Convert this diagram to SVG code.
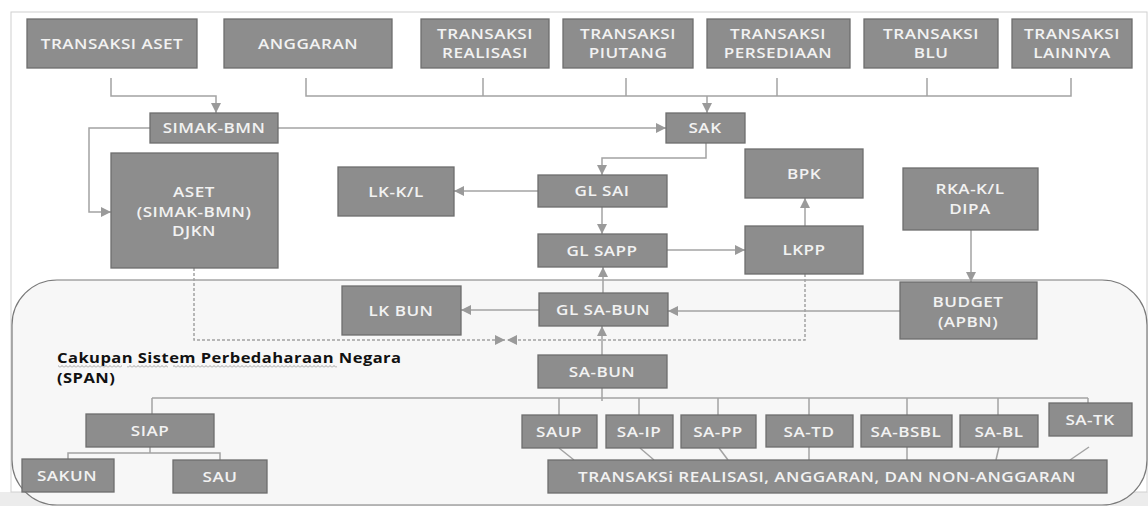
<svg xmlns="http://www.w3.org/2000/svg" width="1148" height="506" viewBox="0 0 1148 506">
<defs>
<marker id="ah" viewBox="0 0 10 10" refX="10" refY="5" markerWidth="10" markerHeight="10" markerUnits="userSpaceOnUse" orient="auto">
<path d="M0,0 L10,5 L0,10 z" fill="#9a9a9a"/>
</marker>
<pattern id="wavy" x="0" y="365" width="4" height="3" patternUnits="userSpaceOnUse">
<path d="M0,2.5 L2,0.5 L4,2.5" fill="none" stroke="#8a8a8a" stroke-width="0.8"/>
</pattern>
<style>
.n rect{fill:#8d8d8d;stroke:#6e6e6e;stroke-width:1.3}
.n text{fill:#f2f2f2;font-family:"Open Sans","Liberation Sans",sans-serif;font-size:14px;font-weight:600;text-anchor:middle;letter-spacing:0.4px}
.c path{fill:none;stroke:#a3a3a3;stroke-width:1.5}
.d{stroke-dasharray:3,2;stroke:#999}
.a{marker-end:url(#ah)}
.h{font-family:"Open Sans","Liberation Sans",sans-serif;font-size:14.5px;font-weight:700;fill:#111;letter-spacing:0.4px}
</style>
</defs>
<rect x="0" y="0" width="1148" height="506" fill="#ffffff"/>
<rect x="0" y="492" width="1148" height="14" fill="#ececec"/>
<rect x="11" y="12" width="1136" height="480" fill="#ffffff" stroke="#d0d0d0" stroke-width="1"/>
<path id="span-region" d="M57,280 H1102 A45,45 0 0 1 1147,325 V460 A45,45 0 0 1 1102,505 H57 A45,45 0 0 1 12,460 V325 A45,45 0 0 1 57,280 Z" fill="#f7f7f7" stroke="#7a7a7a" stroke-width="1.2"/>
<text class="h" transform="translate(57,363) scale(1.14,1)">Cakupan Sistem Perbedaharaan Negara</text>
<text class="h" transform="translate(57,383) scale(1.14,1)">(SPAN)</text>
<rect x="58" y="365" width="64" height="3" fill="url(#wavy)"/>
<rect x="127" y="365" width="41" height="3" fill="url(#wavy)"/>
<rect x="173" y="365" width="164" height="3" fill="url(#wavy)"/>

<g class="c" id="connectors">
<path d="M111,78 V96 H216 V113" class="a"/>
<path d="M306,78 V96 H1071 V78"/>
<path d="M483,78 V96"/>
<path d="M626,78 V96"/>
<path d="M777,78 V96"/>
<path d="M927,78 V96"/>
<path d="M707,96 V113" class="a"/>
<path d="M278,128 H666" class="a"/>
<path d="M150,128 H89 V212 H111" class="a"/>
<path d="M706,143 V158 H602 V175" class="a"/>
<path d="M538,191 H454" class="a"/>
<path d="M602,207 V234" class="a"/>
<path d="M667,250 H745" class="a"/>
<path d="M805,226 V198" class="a"/>
<path d="M971,230 V282" class="a"/>
<path d="M900,311 H668" class="a"/>
<path d="M539,310 H461" class="a"/>
<path d="M603,293 V267" class="a"/>
<path d="M602,355 V326" class="a"/>
<path d="M194,268 V340 H505" class="a d"/>
<path d="M805,274 V340 H507" class="a d"/>
<path d="M152,398 H1088"/>
<path d="M152,398 V414"/>
<path d="M602,388 V401"/>
<path d="M559,398 V415"/>
<path d="M639,398 V415"/>
<path d="M718,398 V415"/>
<path d="M809,398 V415"/>
<path d="M907,398 V415"/>
<path d="M998,398 V415"/>
<path d="M1088,398 V403"/>
<path d="M150,447 V453"/>
<path d="M68,459 V453 H220 V460"/>
<path d="M559,448 L574,460"/>
<path d="M640,448 L654,460"/>
<path d="M719,448 L728,460"/>
<path d="M809,447 V460"/>
<path d="M907,447 V460"/>
<path d="M999,447 L996,460"/>
<path d="M1089,447 L1070,460"/>
</g>

<g class="n" id="transaksi-aset"><rect x="27" y="19" width="170" height="49"/><text transform="translate(112,48.5) scale(1.22,1)">TRANSAKSI ASET</text></g>
<g class="n" id="anggaran"><rect x="224" y="19" width="168" height="49"/><text transform="translate(308,48.5) scale(1.22,1)">ANGGARAN</text></g>
<g class="n" id="transaksi-realisasi"><rect x="421" y="19" width="128" height="49"/><text transform="translate(485,38.5) scale(1.22,1)">TRANSAKSI</text><text transform="translate(485,58) scale(1.22,1)">REALISASI</text></g>
<g class="n" id="transaksi-piutang"><rect x="563" y="19" width="130" height="49"/><text transform="translate(628,38.5) scale(1.22,1)">TRANSAKSI</text><text transform="translate(628,58) scale(1.22,1)">PIUTANG</text></g>
<g class="n" id="transaksi-persediaan"><rect x="707" y="19" width="143" height="49"/><text transform="translate(778,38.5) scale(1.22,1)">TRANSAKSI</text><text transform="translate(778,58) scale(1.22,1)">PERSEDIAAN</text></g>
<g class="n" id="transaksi-blu"><rect x="864" y="19" width="134" height="49"/><text transform="translate(931,38.5) scale(1.22,1)">TRANSAKSI</text><text transform="translate(931,58) scale(1.22,1)">BLU</text></g>
<g class="n" id="transaksi-lainnya"><rect x="1012" y="19" width="120" height="49"/><text transform="translate(1072,38.5) scale(1.22,1)">TRANSAKSI</text><text transform="translate(1072,58) scale(1.22,1)">LAINNYA</text></g>

<g class="n" id="simak-bmn"><rect x="150" y="113" width="128" height="30"/><text transform="translate(214,133) scale(1.22,1)">SIMAK-BMN</text></g>
<g class="n" id="sak"><rect x="666" y="113" width="79" height="30"/><text transform="translate(705,133) scale(1.22,1)">SAK</text></g>
<g class="n" id="aset"><rect x="111" y="153" width="167" height="115"/><text transform="translate(194,197) scale(1.22,1)">ASET</text><text transform="translate(194,216.5) scale(1.22,1)">(SIMAK-BMN)</text><text transform="translate(194,236) scale(1.22,1)">DJKN</text></g>
<g class="n" id="lk-kl"><rect x="338" y="167" width="116" height="49"/><text transform="translate(396,196.5) scale(1.22,1)">LK-K/L</text></g>
<g class="n" id="gl-sai"><rect x="538" y="175" width="129" height="32"/><text transform="translate(602,196) scale(1.22,1)">GL SAI</text></g>
<g class="n" id="bpk"><rect x="745" y="149" width="118" height="49"/><text transform="translate(804,178.5) scale(1.22,1)">BPK</text></g>
<g class="n" id="rka-kl-dipa"><rect x="903" y="168" width="135" height="62"/><text transform="translate(970,194) scale(1.22,1)">RKA-K/L</text><text transform="translate(970,213.5) scale(1.22,1)">DIPA</text></g>
<g class="n" id="gl-sapp"><rect x="538" y="234" width="129" height="33"/><text transform="translate(602,255.5) scale(1.22,1)">GL SAPP</text></g>
<g class="n" id="lkpp"><rect x="745" y="226" width="118" height="48"/><text transform="translate(804,255) scale(1.22,1)">LKPP</text></g>
<g class="n" id="lk-bun"><rect x="342" y="286" width="119" height="49"/><text transform="translate(401,315.5) scale(1.22,1)">LK BUN</text></g>
<g class="n" id="gl-sa-bun"><rect x="539" y="293" width="129" height="33"/><text transform="translate(603,314.5) scale(1.22,1)">GL SA-BUN</text></g>
<g class="n" id="budget-apbn"><rect x="900" y="282" width="137" height="57"/><text transform="translate(968,307) scale(1.22,1)">BUDGET</text><text transform="translate(968,326.5) scale(1.22,1)">(APBN)</text></g>
<g class="n" id="sa-bun"><rect x="538" y="355" width="129" height="33"/><text transform="translate(602,376.5) scale(1.22,1)">SA-BUN</text></g>
<g class="n" id="siap"><rect x="86" y="414" width="128" height="33"/><text transform="translate(150,435.5) scale(1.22,1)">SIAP</text></g>
<g class="n" id="sakun"><rect x="22" y="459" width="92" height="33"/><text transform="translate(67,480.5) scale(1.22,1)">SAKUN</text></g>
<g class="n" id="sau"><rect x="173" y="460" width="94" height="33"/><text transform="translate(220,481.5) scale(1.22,1)">SAU</text></g>
<g class="n" id="saup"><rect x="522" y="415" width="75" height="33"/><text transform="translate(559,436.5) scale(1.22,1)">SAUP</text></g>
<g class="n" id="sa-ip"><rect x="606" y="415" width="67" height="33"/><text transform="translate(639,436.5) scale(1.22,1)">SA-IP</text></g>
<g class="n" id="sa-pp"><rect x="681" y="415" width="75" height="33"/><text transform="translate(718,436.5) scale(1.22,1)">SA-PP</text></g>
<g class="n" id="sa-td"><rect x="766" y="415" width="87" height="32"/><text transform="translate(809,436.5) scale(1.22,1)">SA-TD</text></g>
<g class="n" id="sa-bsbl"><rect x="861" y="415" width="91" height="32"/><text transform="translate(906,436.5) scale(1.22,1)">SA-BSBL</text></g>
<g class="n" id="sa-bl"><rect x="960" y="415" width="78" height="32"/><text transform="translate(999,436.5) scale(1.22,1)">SA-BL</text></g>
<g class="n" id="sa-tk"><rect x="1049" y="403" width="83" height="33"/><text transform="translate(1090,424.5) scale(1.22,1)">SA-TK</text></g>
<g class="n" id="transaksi-bar"><rect x="548" y="460" width="559" height="33"/><text transform="translate(827,481.5) scale(1.22,1)">TRANSAKSi REALISASI, ANGGARAN, DAN NON-ANGGARAN</text></g>
</svg>
